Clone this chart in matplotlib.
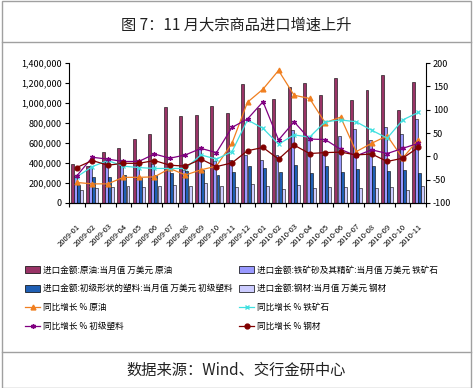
import numpy as np
import matplotlib
matplotlib.use("Agg")
import matplotlib.pyplot as plt
from matplotlib.patches import Patch
from matplotlib.lines import Line2D

plt.rcParams['font.family'] = ['Noto Sans CJK SC', 'DejaVu Sans']

# 月份
meses = ["2009-01", "2009-02", "2009-03", "2009-04", "2009-05", "2009-06",
         "2009-07", "2009-08", "2009-09", "2009-10", "2009-11", "2009-12",
         "2010-01", "2010-02", "2010-03", "2010-04", "2010-05", "2010-06",
         "2010-07", "2010-08", "2010-09", "2010-10", "2010-11"]

# 进口金额 (万美元)
crudo = [390, 370, 510, 550, 640, 690, 960, 870, 880, 970, 900,
         1190, 950, 1045, 1165, 1200, 1078, 1255, 1030, 1130, 1280, 930, 1210]
hierro = [270, 370, 420, 430, 380, 390, 350, 330, 540, 420, 430,
          480, 430, 480, 730, 650, 480, 670, 740, 630, 763, 690, 840]
plastico = [180, 260, 260, 280, 250, 280, 300, 320, 330, 280, 310,
            370, 350, 310, 380, 300, 370, 310, 340, 370, 320, 330, 300]
acero = [130, 150, 160, 170, 160, 170, 180, 170, 200, 170, 160,
         190, 170, 140, 180, 150, 160, 160, 150, 150, 160, 130, 170]
crudo = np.array(crudo) * 1000
hierro = np.array(hierro) * 1000
plastico = np.array(plastico) * 1000
acero = np.array(acero) * 1000

# 同比增长 %
g_crudo = [-56, -59, -59, -45, -45, -44, -26, -40, -29, -21, 28,
           116, 144, 184, 131, 124, 72, 84, 10, 28, 44, -4, 36]
g_hierro = [-44, -22, -9, -21, -24, -26, -26, -26, 3, -6, 10,
            78, 60, 26, 46, 41, 74, 78, 74, 56, 39, 78, 94]
g_plastico = [-42, -2, -6, -11, -11, 5, -4, 3, 17, 8, 62,
              80, 117, 35, 74, 37, 36, 15, 1, 14, 6, 17, 28]
g_acero = [-24, -9, -19, -15, -15, -9, -19, -21, -6, -22, -14,
           12, 19, -6, 24, 6, 8, 9, 3, 5, -11, -4, 19]

etiquetas = ["进口金额:原油:当月值 万美元 原油",
             "进口金额:铁矿砂及其精矿:当月值 万美元 铁矿石",
             "进口金额:初级形状的塑料:当月值 万美元 初级塑料",
             "进口金额:钢材:当月值 万美元 钢材",
             "同比增长 % 原油",
             "同比增长 % 铁矿石",
             "同比增长 % 初级塑料",
             "同比增长 % 钢材"]

c_barras = ["#993366", "#9999FF", "#1F5FB4", "#CCCCFF"]
c_lineas = ["#F07F20", "#40E0E0", "#800080", "#800000"]
marcas = ["^", "x", (6, 2, 0), "o"]

fig = plt.figure(figsize=(4.73, 3.88), dpi=100)

# marco y separadores
fig.add_artist(plt.Rectangle((0.004, 0.0), 0.992, 0.997, transform=fig.transFigure,
                             fill=False, edgecolor="#A0A0A0", lw=1))
fig.add_artist(Line2D([0.004, 0.996], [1 - 42 / 388] * 2, transform=fig.transFigure,
                      color="#A0A0A0", lw=1))
fig.add_artist(Line2D([0.004, 0.996], [1 - 352 / 388] * 2, transform=fig.transFigure,
                      color="#A0A0A0", lw=1))

fig.text(0.5, 1 - 25 / 388, "图 7：11 月大宗商品进口增速上升", ha="center", va="center",
         fontsize=11, color="#222222")
fig.text(0.5, 1 - 370 / 388, "数据来源：Wind、交行金研中心", ha="center", va="center",
         fontsize=11, color="#222222")

ax = fig.add_axes([69 / 473, 1 - 203 / 388, 357 / 473, 140 / 388])
x = np.arange(len(meses))
ancho = 0.19
series = [crudo, hierro, plastico, acero]
for k, s in enumerate(series):
    ax.bar(x + (k - 1.5) * 0.2, s, ancho, color=c_barras[k],
           edgecolor="black", linewidth=0.4, zorder=2)

ax.set_ylim(0, 1400000)
ax.set_yticks(np.arange(0, 1400001, 200000))
ax.set_yticklabels([f"{v:,}" for v in range(0, 1400001, 200000)], fontsize=6.5)
ax.set_xlim(-0.5, len(meses) - 0.5)
ax.set_xticks(np.arange(-0.5, len(meses), 1), minor=False)
ax.set_xticklabels([])
ax.set_xticks(x, minor=True)
ax.set_xticklabels(meses, minor=True, rotation=45, ha="right", rotation_mode="anchor",
                   fontsize=5.5)
ax.tick_params(axis="x", which="minor", length=0, pad=14)
ax.tick_params(axis="x", which="major", length=3, direction="out")
ax.tick_params(axis="y", length=3, direction="out", pad=2)
ax.spines["top"].set_visible(False)
ax.spines["right"].set_visible(False)

ax2 = ax.twinx()
lineas = [g_crudo, g_hierro, g_plastico, g_acero]
for k, s in enumerate(lineas):
    ax2.plot(x, s, color=c_lineas[k], lw=0.9, marker=marcas[k], markersize=3.5,
             markeredgewidth=0.9, zorder=3)
ax2.set_ylim(-100, 200)
ax2.set_yticks(np.arange(-100, 201, 50))
ax2.set_yticklabels([str(v) for v in range(-100, 201, 50)], fontsize=6.5)
ax2.tick_params(axis="y", length=3, direction="out", pad=2)
ax2.spines["top"].set_visible(False)
ax2.spines["left"].set_visible(False)

# leyenda en dos columnas
h_barras = [Patch(facecolor=c_barras[k], edgecolor="black", linewidth=0.5) for k in range(4)]
h_lineas = [Line2D([], [], color=c_lineas[k], marker=marcas[k], markersize=3.5, lw=0.9)
            for k in range(4)]
col1 = [h_barras[0], h_barras[2], h_lineas[0], h_lineas[2]]
col2 = [h_barras[1], h_barras[3], h_lineas[1], h_lineas[3]]
lab1 = [etiquetas[0], etiquetas[2], etiquetas[4], etiquetas[6]]
lab2 = [etiquetas[1], etiquetas[3], etiquetas[5], etiquetas[7]]
for hs, ls, x0 in [(col1, lab1, 22 / 473), (col2, lab2, 236 / 473)]:
    fig.legend(hs, ls, loc="upper left", bbox_to_anchor=(x0, 1 - 262 / 388),
               frameon=False, fontsize=6.2, handlelength=1.7, handleheight=0.8,
               handletextpad=0.3, labelspacing=1.15, borderaxespad=0)

fig.savefig("out.png", dpi=100)
